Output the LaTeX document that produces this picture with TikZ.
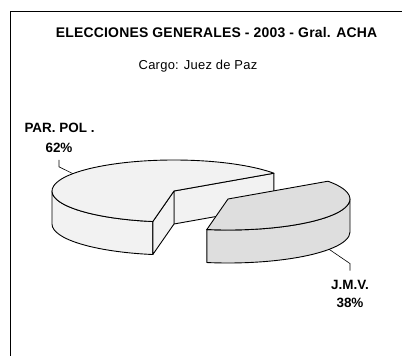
\documentclass[tikz,border=0pt]{standalone}
\usepackage{fontspec}
\setmainfont{Liberation Sans}
\usepackage{xcolor}
\usepackage{tikz}
\usetikzlibrary{calc}
\definecolor{pargray}{HTML}{F2F2F2}
\definecolor{jmvgray}{HTML}{DEDEDE}
\tikzset{part/.style={draw, line join=round, line width=0.9pt},
    lbl/.style={anchor=base, inner sep=3bp,
        font=\bfseries\fontsize{13.5}{16}\selectfont},
    leader/.style={draw, line width=0.6pt},
    frame/.style={draw, line width=1pt}}

\begin{document}
\begin{tikzpicture}[x=1bp, y=1bp]
            \useasboundingbox (0,0) rectangle (402,356);
            \draw[frame] (10,0) -- (10,345) -- (402,345);
            \node[lbl, font=\bfseries\fontsize{14}{16}\selectfont\addfontfeature{LetterSpace=1.5}]
                (title) at (216.5,319) {ELECCIONES GENERALES - 2003 - Gral. ACHA};
            \node[lbl, font=\fontsize{13}{15}\selectfont\addfontfeature{LetterSpace=2}]
                (cargo) at (198,287) {Cargo: Juez de Paz};
            % PAR. POL. slice
            \coordinate (c1) at (174,165);
            \coordinate (c1b) at (174,132);
            \path[part, fill=pargray] (c1) -- ++(35:122 and 31) -- ++(0,-33) -- (c1b) -- cycle;
            \path[part, fill=pargray] (c1) ++(180:122 and 31)
                arc[start angle=180, end angle=260, x radius=122, y radius=31] -- ++(0,-33)
                arc[start angle=260, end angle=180, x radius=122, y radius=31] -- cycle;
            \path[part, fill=pargray] (c1) -- ++(260:122 and 31) -- ++(0,-33) -- (c1b) -- cycle;
            \path[part, fill=pargray] (c1) -- ++(35:122 and 31)
                arc[start angle=35, end angle=260, x radius=122, y radius=31] -- cycle;
            % J.M.V. slice
            \coordinate (c2) at (228,157);
            \coordinate (c2b) at (228,124);
            \path[part, fill=jmvgray] (c2) ++(-100:122 and 31)
                arc[start angle=-100, end angle=0, x radius=122, y radius=31] -- ++(0,-33)
                arc[start angle=0, end angle=-100, x radius=122, y radius=31] -- cycle;
            \path[part, fill=jmvgray] (c2) -- ++(-100:122 and 31)
                arc[start angle=-100, end angle=35, x radius=122, y radius=31] -- cycle;
            % labels
            \node[lbl] (par) at (59.5,224) {PAR. POL .};
            \node[lbl] (parpct) at (59,203.5) {62\%};
            \node[lbl] (jmv) at (350,67) {J.M.V.};
            \node[lbl] (jmvpct) at (350,48.3) {38\%};
            \coordinate (parend) at ($(c1)+(146:122 and 31)$);
            \coordinate (jmvend) at ($(c2b)+(-34:122 and 31)$);
            \draw[leader, shorten <=4bp] (parpct.south) -- ++(0,-11) -- (parend);
            \draw[leader, shorten <=6bp] (jmv.north) -- ++(0,13) -- (jmvend);
        \end{tikzpicture}
\end{document}
